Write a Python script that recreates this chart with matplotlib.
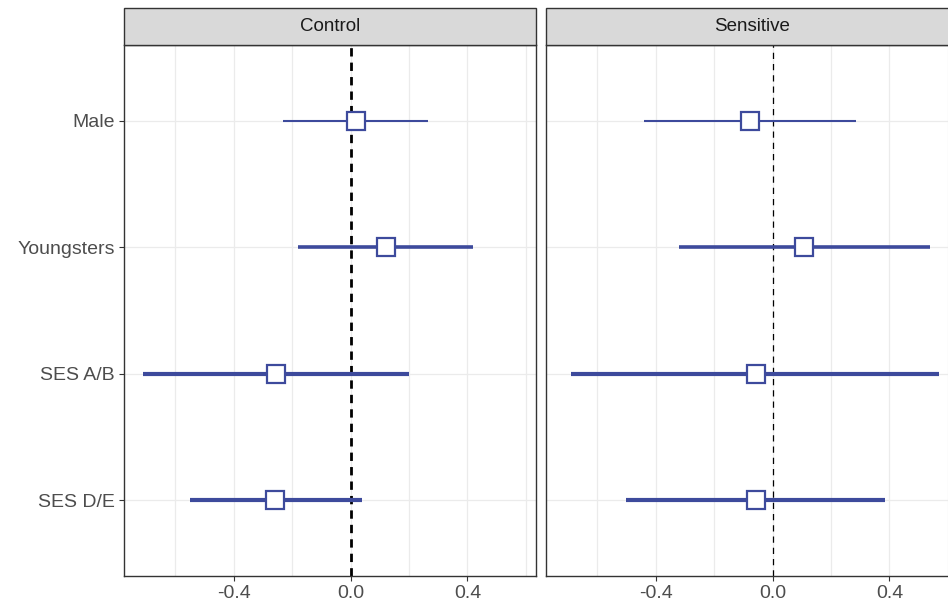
import matplotlib
matplotlib.use("Agg")
import matplotlib.pyplot as plt
from matplotlib.patches import Rectangle

plt.rcParams['font.family'] = ['Liberation Sans', 'DejaVu Sans']

categories = ["Male", "Youngsters", "SES A/B", "SES D/E"]
panels = ["Control", "Sensitive"]

control_est = [0.02, 0.12, -0.255, -0.26]
control_lo = [-0.23, -0.18, -0.71, -0.55]
control_hi = [0.265, 0.42, 0.20, 0.038]

sensitive_est = [-0.077, 0.108, -0.058, -0.058]
sensitive_lo = [-0.44, -0.32, -0.69, -0.503]
sensitive_hi = [0.287, 0.54, 0.57, 0.385]

line_widths = [1.5, 2.6, 3.0, 3.0]

xticks = [-0.4, 0.0, 0.4]
xtick_labels = ["-0.4", "0.0", "0.4"]
minor_ticks = [-0.6, -0.2, 0.2, 0.6]

color = "#3d4a9c"

fig = plt.figure(figsize=(9.48, 6.09), dpi=100)
W, H = 948, 609

def ax_rect(x0, x1, ytop, ybot):
    return [x0 / W, (H - ybot) / H, (x1 - x0) / W, (ybot - ytop) / H]

axes = [fig.add_axes(ax_rect(124, 536, 45, 576)),
        fig.add_axes(ax_rect(546, 958, 45, 576))]

data = [(control_est, control_lo, control_hi), (sensitive_est, sensitive_lo, sensitive_hi)]
zero_styles = [dict(lw=2.0, dashes=(3, 2.2)), dict(lw=0.9, dashes=(5, 4))]

ypos = list(range(len(categories), 0, -1))

for i, ax in enumerate(axes):
    est, lo, hi = data[i]
    ax.set_xlim(-0.776, 0.635)
    ax.set_ylim(0.4, len(categories) + 0.6)
    for v in xticks + minor_ticks:
        ax.axvline(v, color="#ebebeb", lw=0.9, zorder=0)
    for y in ypos:
        ax.axhline(y, color="#ebebeb", lw=0.9, zorder=0)
    ax.axvline(0, color="black", zorder=1, **zero_styles[i])
    for k in range(len(categories)):
        ax.plot([lo[k], hi[k]], [ypos[k], ypos[k]], color=color,
                lw=line_widths[k], solid_capstyle="butt", zorder=2)
        ax.plot([est[k]], [ypos[k]], marker="s", ms=12.5, mfc="white",
                mec=color, mew=1.6, zorder=3, linestyle="none")
    ax.set_xticks(xticks)
    ax.set_xticklabels(xtick_labels)
    ax.set_yticks(ypos)
    ax.tick_params(axis="both", colors="#333333", labelcolor="#4d4d4d",
                   labelsize=14, length=3.5, width=0.8, pad=3)
    if i == 0:
        ax.set_yticklabels(categories)
    else:
        ax.set_yticklabels([])
        ax.tick_params(axis="y", length=0)
    for s in ax.spines.values():
        s.set_color("#333333")
        s.set_linewidth(1.0)
    # strip
    strip_h = 37 / 531
    ax.add_patch(Rectangle((0, 1), 1, strip_h, transform=ax.transAxes,
                           facecolor="#d9d9d9", edgecolor="#333333", lw=1.0,
                           clip_on=False, zorder=5))
    ax.text(0.5, 1 + strip_h / 2, panels[i], transform=ax.transAxes,
            ha="center", va="center", fontsize=13.5, color="#1a1a1a", zorder=6)

fig.savefig("out.png", dpi=100)
